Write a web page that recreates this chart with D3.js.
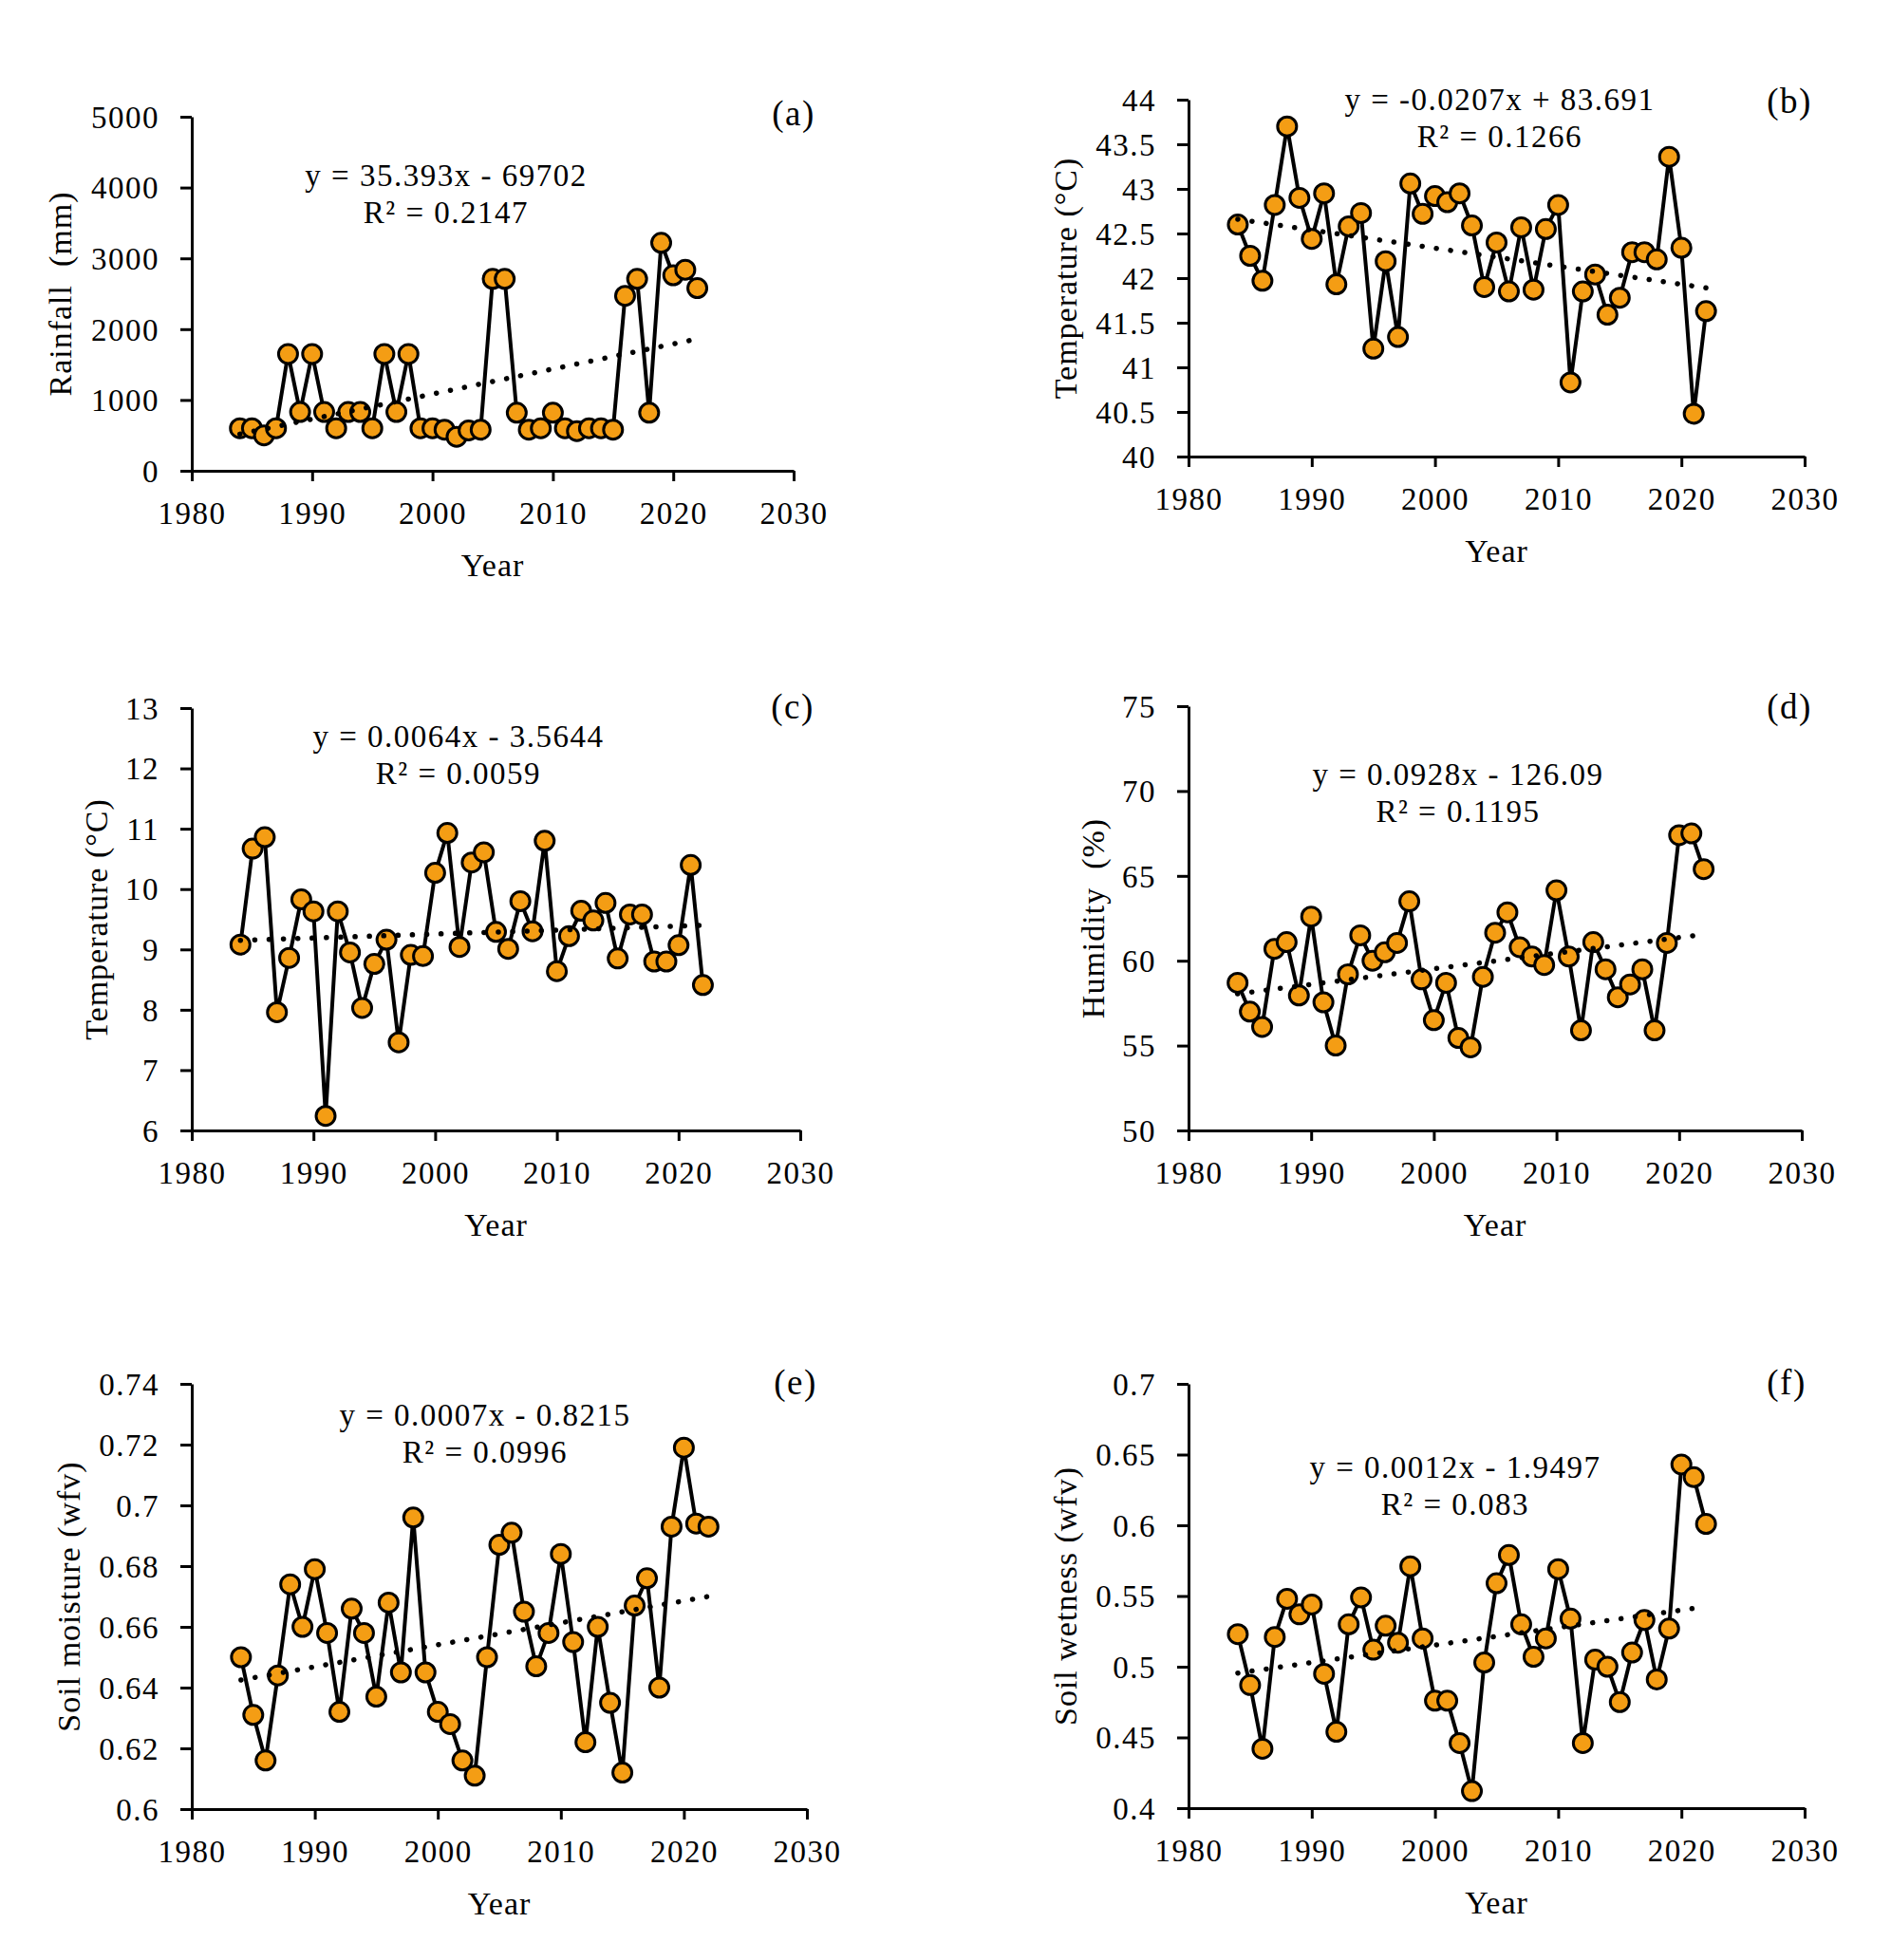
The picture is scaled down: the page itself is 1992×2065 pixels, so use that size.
<!DOCTYPE html>
<html>
<head>
<meta charset="utf-8">
<script src="https://cdn.jsdelivr.net/npm/d3@7/dist/d3.min.js"></script>
<style>
  body { margin: 0; background: #fff; }
  svg text { font-family: "Liberation Serif", "Times New Roman", serif; fill: #000; }
</style>
</head>
<body>
<div id="chart"></div>
<script>
/** Data */
const years = [1984, 1985, 1986, 1987, 1988, 1989, 1990, 1991, 1992, 1993,
  1994, 1995, 1996, 1997, 1998, 1999, 2000, 2001, 2002, 2003,
  2004, 2005, 2006, 2007, 2008, 2009, 2010, 2011, 2012, 2013,
  2014, 2015, 2016, 2017, 2018, 2019, 2020, 2021, 2022];

const rainfall = [600, 600, 500, 600, 1650, 830, 1650, 830, 600, 830,
  830, 600, 1650, 830, 1650, 600, 600, 580, 480, 570,
  580, 2710, 2710, 820, 580, 600, 820, 600, 560, 600,
  600, 580, 2470, 2710, 820, 3220, 2760, 2840, 2580];

const maxTemp = [42.6, 42.25, 41.97, 42.82, 43.7, 42.9, 42.44, 42.95, 41.93, 42.58,
  42.73, 41.21, 42.19, 41.34, 43.06, 42.72, 42.92, 42.85, 42.95, 42.59,
  41.9, 42.4, 41.85, 42.57, 41.87, 42.55, 42.82, 40.83, 41.85, 42.04,
  41.59, 41.78, 42.29, 42.29, 42.21, 43.36, 42.34, 40.48, 41.63];

const minTemp = [9.08, 10.67, 10.86, 7.96, 8.86, 9.83, 9.63, 6.24, 9.63, 8.95,
  8.03, 8.76, 9.16, 7.46, 8.91, 8.89, 10.27, 10.93, 9.04, 10.44,
  10.61, 9.29, 9.01, 9.8, 9.3, 10.8, 8.64, 9.22, 9.64, 9.48,
  9.77, 8.85, 9.58, 9.58, 8.8, 8.8, 9.07, 10.4, 8.41];

const humidity = [58.7, 57.0, 56.1, 60.7, 61.1, 57.95, 62.6, 57.55, 55.0, 59.2,
  61.5, 60.0, 60.5, 61.05, 63.5, 58.9, 56.5, 58.7, 55.45, 54.9,
  59.05, 61.65, 62.85, 60.8, 60.25, 59.75, 64.15, 60.25, 55.9, 61.1,
  59.5, 57.85, 58.6, 59.5, 55.9, 61.05, 67.4, 67.5, 65.4];

const soilMoisture = [0.650, 0.631, 0.616, 0.644, 0.674, 0.660, 0.679, 0.658, 0.632, 0.666,
  0.658, 0.637, 0.668, 0.645, 0.696, 0.645, 0.632, 0.628, 0.616, 0.611,
  0.650, 0.687, 0.691, 0.665, 0.647, 0.658, 0.684, 0.655, 0.622, 0.660,
  0.635, 0.612, 0.667, 0.676, 0.640, 0.693, 0.719, 0.694, 0.693];

const soilWetness = [0.523, 0.487, 0.442, 0.521, 0.548, 0.537, 0.544, 0.495, 0.454, 0.530,
  0.549, 0.512, 0.529, 0.517, 0.571, 0.520, 0.476, 0.476, 0.446, 0.412,
  0.503, 0.559, 0.579, 0.530, 0.507, 0.520, 0.569, 0.534, 0.446, 0.505,
  0.500, 0.475, 0.510, 0.533, 0.491, 0.527, 0.643, 0.634, 0.601];

/** Trend line values at first and last year */
const trendStart = [518, 42.66, 9.15, 58.05, 0.6425, 0.4955];
const trendEnd = [1862, 41.89, 9.40, 61.55, 0.6700, 0.5425];

const panelSeries = [rainfall, maxTemp, minTemp, humidity, soilMoisture, soilWetness];
const panelLetters = ["(a)", "(b)", "(c)", "(d)", "(e)", "(f)"];
const yTitles = ["Rainfall  (mm)", "Temperature (\u00B0C)", "Temperature (\u00B0C)",
  "Humidity  (%)", "Soil moisture (wfv)", "Soil wetness (wfv)"];
const equations = ["y = 35.393x - 69702", "y = -0.0207x + 83.691", "y = 0.0064x - 3.5644",
  "y = 0.0928x - 126.09", "y = 0.0007x - 0.8215", "y = 0.0012x - 1.9497"];
const rSquared = ["R\u00B2 = 0.2147", "R\u00B2 = 0.1266", "R\u00B2 = 0.0059",
  "R\u00B2 = 0.1195", "R\u00B2 = 0.0996", "R\u00B2 = 0.083"];

const xTicks = [1980, 1990, 2000, 2010, 2020, 2030];
const yTicks = [
  [0, 1000, 2000, 3000, 4000, 5000],
  [40, 40.5, 41, 41.5, 42, 42.5, 43, 43.5, 44],
  [6, 7, 8, 9, 10, 11, 12, 13],
  [50, 55, 60, 65, 70, 75],
  [0.6, 0.62, 0.64, 0.66, 0.68, 0.7, 0.72, 0.74],
  [0.4, 0.45, 0.5, 0.55, 0.6, 0.65, 0.7],
];

/** Layout (pixels) */
const width = 1992;
const height = 2065;
const boxes = [
  { left: 202, right: 836, top: 123, bottom: 496, titleX: 64, eqX: 470, eqY: 185, labX: 836, labY: 120 },
  { left: 1252, right: 1901, top: 105, bottom: 481, titleX: 1123, eqX: 1580, eqY: 105, labX: 1885, labY: 107 },
  { left: 202, right: 843, top: 746, bottom: 1191, titleX: 102, eqX: 483, eqY: 776, labX: 835, labY: 745 },
  { left: 1252, right: 1898, top: 744, bottom: 1191, titleX: 1152, eqX: 1536, eqY: 816, labX: 1885, labY: 745 },
  { left: 202, right: 850, top: 1458, bottom: 1906, titleX: 73, eqX: 511, eqY: 1491, labX: 838, labY: 1457 },
  { left: 1252, right: 1901, top: 1458, bottom: 1905, titleX: 1123, eqX: 1533, eqY: 1546, labX: 1882, labY: 1457 },
];
const fontSize = 33;
const orange = "#f49d14";

const svg = d3
  .select("#chart")
  .append("svg")
  .attr("width", width)
  .attr("height", height);

const fmt = (d) => String(+d.toFixed(3));

const styleAxis = (g) => {
  g.select(".domain").attr("stroke", "#000").attr("stroke-width", 3);
  g.selectAll(".tick line").attr("stroke", "#000").attr("stroke-width", 3);
  g.selectAll(".tick text")
    .attr("font-size", fontSize)
    .attr("letter-spacing", "1.5px")
    .attr("fill", "#000");
};

panelSeries.forEach((values, i) => {
  const b = boxes[i];
  const ticks = yTicks[i];

  const x = d3.scaleLinear().domain([1980, 2030]).range([b.left, b.right]);
  const y = d3.scaleLinear().domain([ticks[0], ticks[ticks.length - 1]]).range([b.bottom, b.top]);

  const g = svg.append("g");

  /** Axes */
  g.append("g")
    .attr("transform", `translate(0,${b.bottom})`)
    .call(d3.axisBottom(x).tickValues(xTicks).tickFormat(d3.format("d")).tickSize(11).tickSizeOuter(0).tickPadding(22))
    .call(styleAxis);

  g.append("g")
    .attr("transform", `translate(${b.left},0)`)
    .call(d3.axisLeft(y).tickValues(ticks).tickFormat(fmt).tickSize(12).tickSizeOuter(0).tickPadding(22))
    .call(styleAxis)
    .call((a) => a.selectAll(".tick text").attr("dy", "0.34em"));

  /** Axis titles */
  g.append("text")
    .attr("x", (b.left + b.right) / 2)
    .attr("y", b.bottom + 111)
    .attr("text-anchor", "middle")
    .attr("font-size", fontSize + 1)
    .attr("letter-spacing", "1px")
    .text("Year");

  g.append("text")
    .attr("transform", `translate(${b.titleX},${(b.top + b.bottom) / 2}) rotate(-90)`)
    .attr("dy", "0.33em")
    .attr("text-anchor", "middle")
    .attr("font-size", fontSize + 1)
    .attr("letter-spacing", "1px")
    .attr("xml:space", "preserve")
    .style("white-space", "pre")
    .text(yTitles[i]);

  /** Series line and markers */
  const pts = years.map((yr, k) => [yr, values[k]]);
  g.append("path")
    .datum(pts)
    .attr("fill", "none")
    .attr("stroke", "#000")
    .attr("stroke-width", 4)
    .attr("stroke-linejoin", "round")
    .attr("d", d3.line().x((d) => x(d[0])).y((d) => y(d[1])));

  g.selectAll("circle")
    .data(pts)
    .enter()
    .append("circle")
    .attr("cx", (d) => x(d[0]))
    .attr("cy", (d) => y(d[1]))
    .attr("r", 10)
    .attr("fill", orange)
    .attr("stroke", "#000")
    .attr("stroke-width", 3);

  /** Dotted linear trend */
  const trend = [[years[0], trendStart[i]], [years[years.length - 1], trendEnd[i]]];
  g.append("path")
    .datum(trend)
    .attr("fill", "none")
    .attr("stroke", "#000")
    .attr("stroke-width", 5.5)
    .attr("stroke-linecap", "round")
    .attr("stroke-dasharray", "0.1 15")
    .attr("d", d3.line().x((d) => x(d[0])).y((d) => y(d[1])));

  /** Equation, R squared and panel letter */
  g.append("text")
    .attr("x", b.eqX)
    .attr("y", b.eqY)
    .attr("dy", "0.33em")
    .attr("text-anchor", "middle")
    .attr("font-size", fontSize)
    .attr("letter-spacing", "1.5px")
    .attr("xml:space", "preserve")
    .style("white-space", "pre")
    .text(equations[i]);

  g.append("text")
    .attr("x", b.eqX)
    .attr("y", b.eqY + 39)
    .attr("dy", "0.33em")
    .attr("text-anchor", "middle")
    .attr("font-size", fontSize)
    .attr("letter-spacing", "1.5px")
    .text(rSquared[i]);

  g.append("text")
    .attr("x", b.labX)
    .attr("y", b.labY)
    .attr("dy", "0.33em")
    .attr("text-anchor", "middle")
    .attr("font-size", fontSize + 4)
    .attr("letter-spacing", "1.5px")
    .text(panelLetters[i]);
});
</script>
</body>
</html>
